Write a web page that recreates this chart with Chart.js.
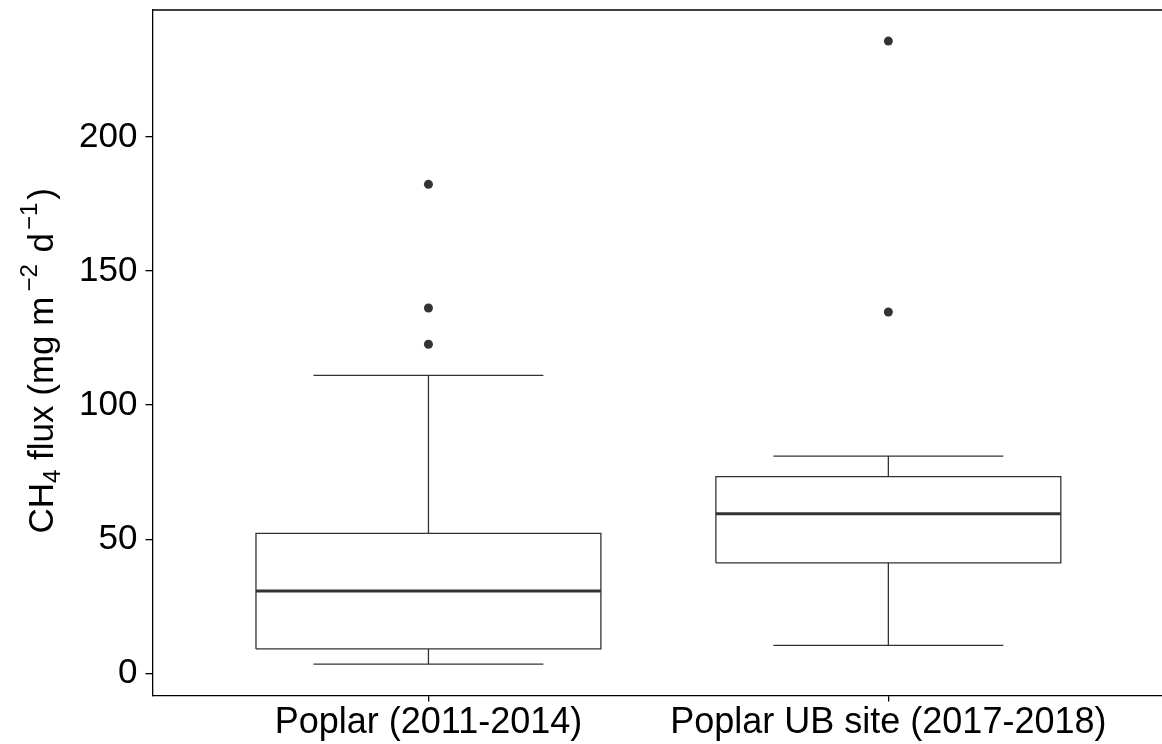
<!DOCTYPE html>
<html>
<head>
<meta charset="utf-8">
<script src="https://cdn.jsdelivr.net/npm/chart.js@4.4.1/dist/chart.umd.min.js"></script>
<style>
  html, body { margin: 0; padding: 0; background: #fff; overflow: hidden; }
  canvas { display: block; }
</style>
</head>
<body>
<canvas id="grafico" width="1162" height="744"></canvas>
<script>
// box plot stats
const grupos = ["Poplar (2011-2014)", "Poplar UB site (2017-2018)"];
const posX = [1, 2];
const bigoteInf = [3.4, 10.4];
const q1 = [9.1, 41.2];
const mediana = [30.7, 59.5];
const q3 = [52.2, 73.3];
const bigoteSup = [111.1, 81.0];
const atipicos = [[122.7, 136.2, 182.3], [134.7, 235.7]];
const ticksY = [0, 50, 100, 150, 200];

const FUENTE = "'Liberation Sans', Arial, sans-serif";
const colorLinea = "#333333";
const anchoCaja = 0.75;
const anchoBigote = 0.5;

const datasets = [];
posX.forEach((x, i) => {
  const h = anchoCaja / 2;
  const w = anchoBigote / 2;
  const linea = (data, grosor) => ({
    type: "scatter",
    data: data,
    showLine: true,
    borderColor: colorLinea,
    borderWidth: grosor,
    pointRadius: 0,
    fill: false,
    tension: 0,
  });
  // caja
  datasets.push(linea([
    { x: x - h, y: q1[i] }, { x: x + h, y: q1[i] },
    { x: x + h, y: q3[i] }, { x: x - h, y: q3[i] },
    { x: x - h, y: q1[i] }
  ], 1.3));
  // mediana
  datasets.push(linea([{ x: x - h, y: mediana[i] }, { x: x + h, y: mediana[i] }], 3));
  // bigotes
  datasets.push(linea([{ x: x, y: q3[i] }, { x: x, y: bigoteSup[i] }], 1.3));
  datasets.push(linea([{ x: x, y: q1[i] }, { x: x, y: bigoteInf[i] }], 1.3));
  datasets.push(linea([{ x: x - w, y: bigoteSup[i] }, { x: x + w, y: bigoteSup[i] }], 1.3));
  datasets.push(linea([{ x: x - w, y: bigoteInf[i] }, { x: x + w, y: bigoteInf[i] }], 1.3));
  // atipicos
  datasets.push({
    type: "scatter",
    data: atipicos[i].map(v => ({ x: x, y: v })),
    pointRadius: 4.5,
    pointBackgroundColor: colorLinea,
    pointBorderWidth: 0,
    showLine: false,
  });
});

const tituloY = {
  id: "tituloY",
  afterDraw(chart) {
    const c = chart.ctx;
    const a = chart.chartArea;
    const grande = 35;
    const chico = 24;
    const partes = [
      { t: "CH", s: grande, dy: 0, gap: 0 },
      { t: "4", s: chico, dy: 7, gap: 0 },
      { t: " flux (mg m", s: grande, dy: 0, gap: 0 },
      { t: "\u22122", s: chico, dy: -16, gap: 5 },
      { t: " d", s: grande, dy: 0, gap: 2 },
      { t: "\u22121", s: chico, dy: -16, gap: 3 },
      { t: ")", s: grande, dy: 0, gap: 3 },
    ];
    c.save();
    let total = 0;
    partes.forEach(p => {
      c.font = p.s + "px " + FUENTE;
      p.w = c.measureText(p.t).width;
      total += p.w + p.gap;
    });
    c.translate(53, (a.top + a.bottom) / 2 + 8);
    c.rotate(-Math.PI / 2);
    c.fillStyle = "#000";
    c.textBaseline = "alphabetic";
    c.textAlign = "left";
    let x = -total / 2;
    partes.forEach(p => {
      c.font = p.s + "px " + FUENTE;
      x += p.gap;
      c.fillText(p.t, x, p.dy);
      x += p.w;
    });
    c.restore();
    // borde superior del panel
    c.save();
    c.strokeStyle = "#000";
    c.lineWidth = 1.3;
    c.beginPath();
    c.moveTo(a.left, a.top);
    c.lineTo(a.right, a.top);
    c.stroke();
    c.restore();
  }
};

new Chart(document.getElementById("grafico").getContext("2d"), {
  type: "scatter",
  data: { datasets: datasets },
  plugins: [tituloY],
  options: {
    responsive: false,
    animation: false,
    devicePixelRatio: 1,
    layout: { autoPadding: false, padding: { top: 10, right: 0, left: 0, bottom: 0 } },
    plugins: {
      legend: { display: false },
      tooltip: { enabled: false },
      title: { display: false },
    },
    scales: {
      x: {
        type: "linear",
        min: 0.4,
        max: 2.595,
        afterBuildTicks: s => { s.ticks = posX.map(v => ({ value: v })); },
        afterFit: s => {
          s.height = 48.5;
          s.paddingLeft = 0; s.paddingRight = 0;
        },
        ticks: {
          color: "#000",
          font: { family: FUENTE, size: 36 },
          padding: 0,
          maxRotation: 0,
          autoSkip: false,
          callback: v => grupos[posX.indexOf(v)] || "",
        },
        grid: { drawOnChartArea: false, color: "#000", tickLength: 6, lineWidth: 1.3 },
        border: { display: true, color: "#000", width: 1.3 },
      },
      y: {
        type: "linear",
        min: -8.27,
        max: 247.3,
        afterBuildTicks: s => { s.ticks = ticksY.map(v => ({ value: v })); },
        afterFit: s => {
          s.width = 152.5;
          s.paddingTop = 0; s.paddingBottom = 0;
        },
        ticks: {
          color: "#000",
          font: { family: FUENTE, size: 35 },
          padding: 8,
        },
        grid: { drawOnChartArea: false, color: "#000", tickLength: 7, lineWidth: 1.3 },
        border: { display: true, color: "#000", width: 1.3 },
      },
    },
  },
});
</script>
</body>
</html>
